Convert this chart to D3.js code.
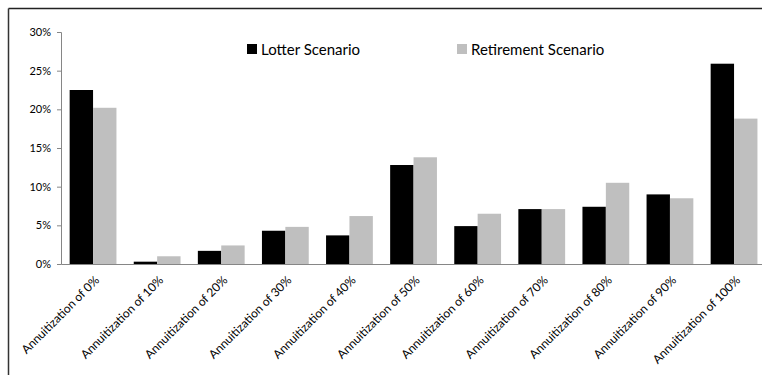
<!DOCTYPE html>
<html>
<head>
<meta charset="utf-8">
<script src="https://cdn.jsdelivr.net/npm/d3@7"></script>
<style>
  html, body { margin: 0; padding: 0; background: #fff; }
  svg { display: block; }
  text { font-family: Lato, "Open Sans", sans-serif; fill: #000; }
</style>
</head>
<body>
<svg id="chart" width="762" height="375"></svg>
<script>
// Share of respondents choosing each annuitization level, by scenario
const categories = [
  "Annuitization of 0%", "Annuitization of 10%", "Annuitization of 20%",
  "Annuitization of 30%", "Annuitization of 40%", "Annuitization of 50%",
  "Annuitization of 60%", "Annuitization of 70%", "Annuitization of 80%",
  "Annuitization of 90%", "Annuitization of 100%"
];
const seriesNames = ["Lotter Scenario", "Retirement Scenario"];
const lotterValues     = [22.5, 0.3, 1.7, 4.3, 3.7, 12.8, 4.9, 7.1, 7.4, 9.0, 25.9];
const retirementValues = [20.2, 1.0, 2.4, 4.8, 6.2, 13.8, 6.5, 7.1, 10.5, 8.5, 18.8];
const yTicks = [0, 5, 10, 15, 20, 25, 30];

const colors = ["#000000", "#bfbfbf"];

const svg = d3.select("#chart");

// outer frame edges
svg.append("line").attr("x1", 8.5).attr("x2", 762).attr("y1", 8.5).attr("y2", 8.5)
  .attr("stroke", "#222").attr("stroke-width", 1.5);
svg.append("line").attr("x1", 8.5).attr("x2", 8.5).attr("y1", 8.5).attr("y2", 375)
  .attr("stroke", "#333").attr("stroke-width", 1.5);

const plotLeft = 61, step = 64.1;
const x = d3.scaleBand()
  .domain(categories)
  .range([plotLeft, plotLeft + step * categories.length])
  .paddingInner(0.27)
  .paddingOuter(0.135);
const xs = d3.scaleBand().domain(seriesNames).range([0, x.bandwidth()]);
const y = d3.scaleLinear().domain([0, 30]).range([264, 32]);

// y axis
const yAxis = d3.axisLeft(y)
  .tickValues(yTicks)
  .tickFormat(d => d + "%")
  .tickSize(4)
  .tickPadding(6);
const gy = svg.append("g").attr("transform", `translate(${plotLeft},0)`).call(yAxis);
gy.select(".domain").attr("stroke", "#868686");
gy.selectAll(".tick line").attr("stroke", "#868686");
gy.selectAll(".tick text").attr("font-size", 11).attr("fill", "#111")
  .style("font-family", "Lato, sans-serif");

// bars
const series = [lotterValues, retirementValues];
series.forEach((vals, si) => {
  svg.append("g").selectAll("rect")
    .data(categories.map((c, i) => ({ c, v: vals[i] })))
    .join("rect")
    .attr("x", d => x(d.c) + xs(seriesNames[si]))
    .attr("width", xs.bandwidth())
    .attr("y", d => y(d.v))
    .attr("height", d => y(0) - y(d.v))
    .attr("fill", colors[si]);
});

// x axis
const xAxis = d3.axisBottom(x).tickSize(0).tickPadding(0);
const gx = svg.append("g").attr("transform", `translate(0,${y(0)})`).call(xAxis);
gx.select(".domain").attr("stroke", "#868686");
gx.selectAll(".tick text")
  .attr("font-size", 12)
  .attr("fill", "#111")
  .style("font-family", "Lato, sans-serif")
  .attr("text-anchor", "end")
  .attr("dy", 0)
  .attr("transform", "translate(7,17) rotate(-45)");

// legend
const legendItems = [
  { name: seriesNames[0], color: colors[0], x: 247 },
  { name: seriesNames[1], color: colors[1], x: 457 }
];
const lg = svg.append("g").selectAll("g").data(legendItems).join("g")
  .attr("transform", d => `translate(${d.x},44)`);
lg.append("rect").attr("width", 10).attr("height", 10).attr("fill", d => d.color);
lg.append("text").attr("x", 14).attr("y", 10.5).attr("font-size", 15)
  .text(d => d.name);
</script>
</body>
</html>
